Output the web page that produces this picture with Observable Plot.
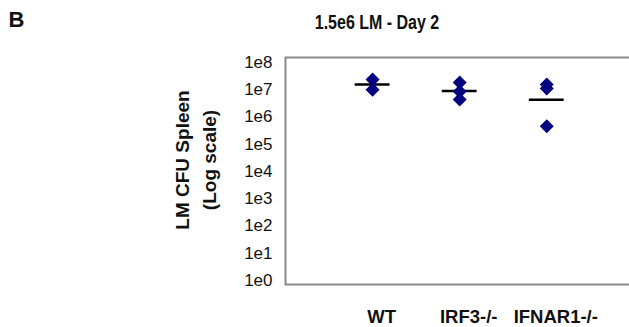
<!DOCTYPE html>
<html>
<head>
<meta charset="utf-8">
<script src="https://cdn.jsdelivr.net/npm/d3@7"></script>
<script src="https://cdn.jsdelivr.net/npm/@observablehq/plot@0.6"></script>
<style>
  html, body { margin: 0; padding: 0; background: white; }
  #wrap { position: relative; width: 629px; height: 327px; overflow: hidden; background: white; }
  #wrap svg { position: absolute; left: 0; top: 0; }
  .lbl { position: absolute; white-space: nowrap; color: #111; }
  #panel { left: 8.5px; top: 9.4px; font: bold 22px/22px "Liberation Sans", Arial, sans-serif; }
  #title { left: 376.5px; top: 12.5px; transform: translateX(-50%) scaleX(0.82); font: bold 19.5px/19.5px "Liberation Sans", Arial, sans-serif; }
  #ytitle { left: 196px; top: 160px; transform: translate(-50%, -50%) rotate(-90deg); text-align: center; font: bold 19px/27px "Liberation Sans", Arial, sans-serif; }
</style>
</head>
<body>
<div id="wrap">
  <div class="lbl" id="panel">B</div>
  <div class="lbl" id="title">1.5e6 LM - Day 2</div>
  <div class="lbl" id="ytitle">LM CFU Spleen<br>(Log scale)</div>
</div>
<script>
// Data
const categories = ["WT", "IRF3-/-", "IFNAR1-/-"];
const wtCFU = [2.4e7, 1.0e7];
const irf3CFU = [1.85e7, 8.7e6, 4.4e6];
const ifnar1CFU = [1.55e7, 1.12e7, 4.6e5];
const yTickValues = [1e0, 1e1, 1e2, 1e3, 1e4, 1e5, 1e6, 1e7, 1e8];
const yTickLabels = ["1e0", "1e1", "1e2", "1e3", "1e4", "1e5", "1e6", "1e7", "1e8"];

const seriesValues = [wtCFU, irf3CFU, ifnar1CFU];
const points = seriesValues.flatMap((vals, i) => vals.map(v => ({x: i + 1, group: categories[i], cfu: v})));
const means = seriesValues.map((vals, i) => ({x: i + 1, group: categories[i], cfu: Math.pow(10, d3.mean(vals, v => Math.log10(v)))}));

const chart = Plot.plot({
  width: 629,
  height: 327,
  marginLeft: 285,
  marginRight: 0,
  marginTop: 57,
  marginBottom: 43,
  style: {fontFamily: "'Liberation Sans', Arial, sans-serif", fontSize: "17px", background: "transparent", color: "#111"},
  x: {domain: [0, 3.95], axis: null},
  y: {type: "log", domain: [1, 1e8], insetTop: 5, insetBottom: 4, axis: null},
  marks: [
    Plot.frame({stroke: "#8a8a8a", strokeWidth: 2, insetRight: -10}),
    Plot.axisY({ticks: yTickValues, tickFormat: d => yTickLabels[yTickValues.indexOf(d)], tickSize: 0, tickPadding: 13, fontSize: 17, label: null}),
    Plot.axisX({ticks: [1, 2, 3], tickFormat: d => categories[d - 1], tickSize: 0, tickPadding: 25, dx: 9, fontSize: 18.5, fontWeight: "bold", label: null}),
    Plot.ruleY(means, {y: "cfu", x1: d => d.x - 0.2, x2: d => d.x + 0.2, stroke: "black", strokeWidth: 2.5}),
    Plot.dot(points, {x: "x", y: "cfu", symbol: "diamond2", r: 6.3, fill: "#000080", stroke: "none"})
  ]
});
document.getElementById("wrap").appendChild(chart);
</script>
</body>
</html>
